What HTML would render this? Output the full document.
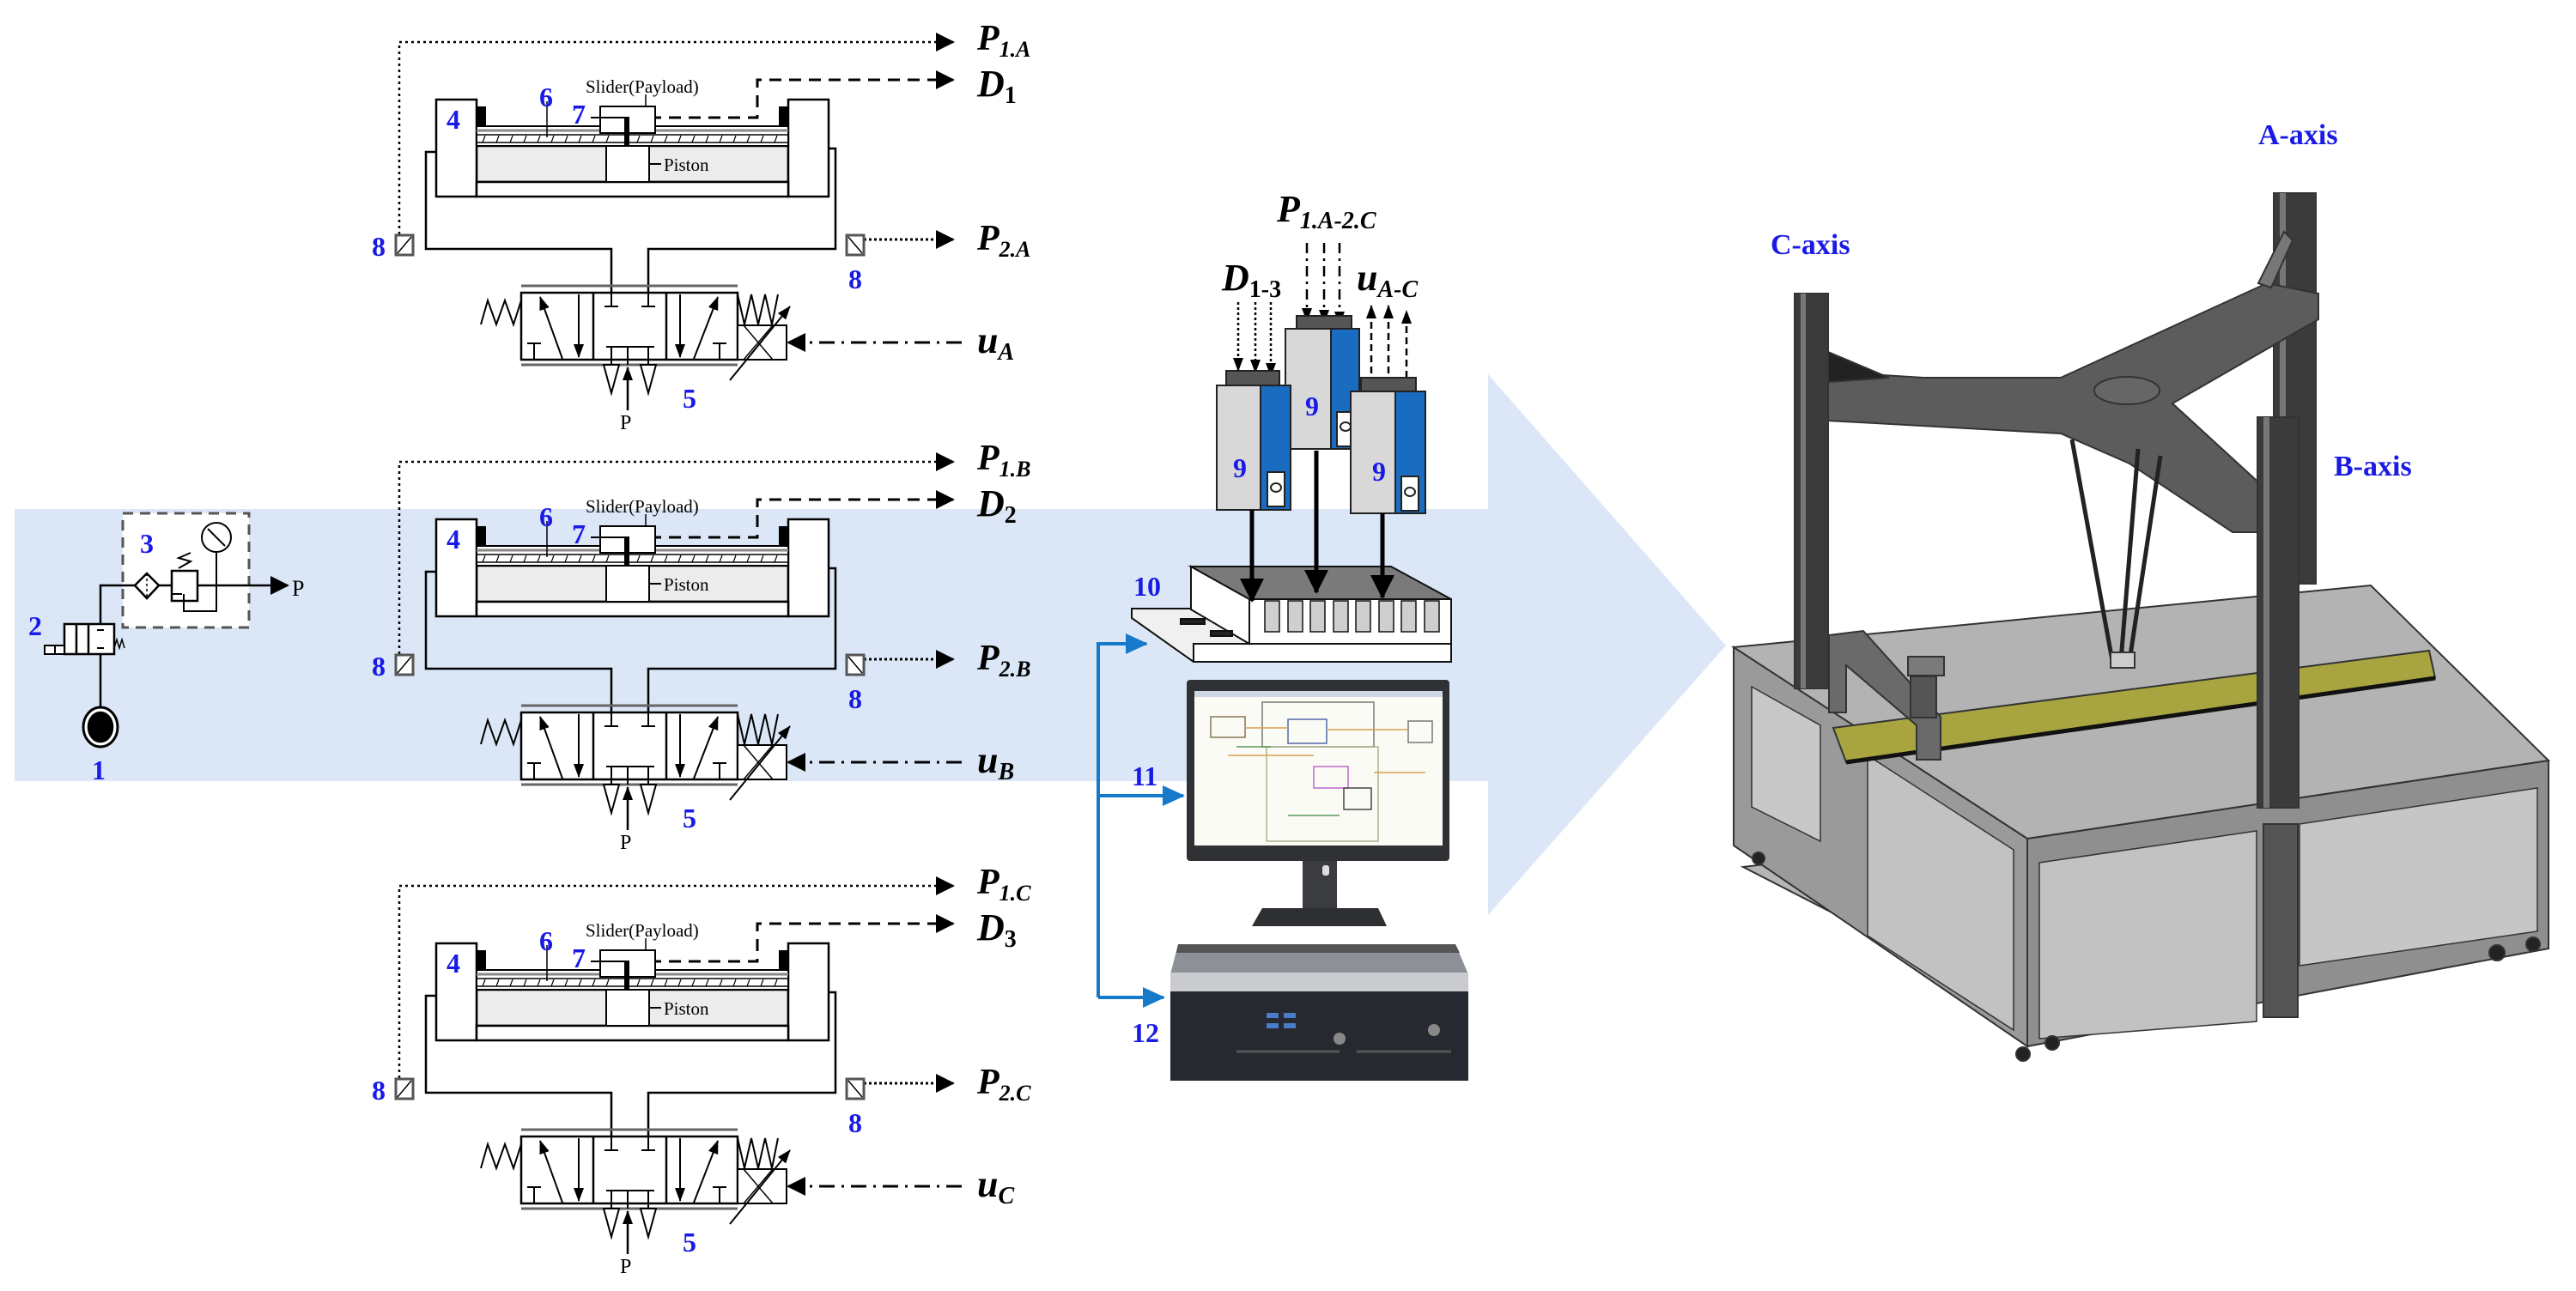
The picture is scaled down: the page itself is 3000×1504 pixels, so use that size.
<!DOCTYPE html>
<html><head><meta charset="utf-8"><style>
html,body{margin:0;padding:0;background:#fff;}
svg{display:block;}
.lab{font-family:"Liberation Serif",serif;font-style:italic;font-weight:bold;fill:#000;}
.num{font-family:"Liberation Serif",serif;font-weight:bold;fill:#1a1ae6;font-size:32px;}
.sm{font-family:"Liberation Serif",serif;fill:#000;font-size:21px;}
.ax{font-family:"Liberation Serif",serif;font-weight:bold;fill:#1a1ae6;font-size:34px;}
</style></head><body>
<svg width="3000" height="1504" viewBox="0 0 3000 1504" xmlns="http://www.w3.org/2000/svg">
<defs>
<marker id="ahb" markerWidth="22" markerHeight="22" refX="20" refY="11" orient="auto" markerUnits="userSpaceOnUse"><path d="M0,0 L22,11 L0,22z" fill="#000"/></marker>
<marker id="ahm" markerWidth="28" markerHeight="28" refX="26" refY="14" orient="auto" markerUnits="userSpaceOnUse"><path d="M0,0 L28,14 L0,28z" fill="#000"/></marker>
<marker id="ahs" markerWidth="16" markerHeight="16" refX="15" refY="8" orient="auto" markerUnits="userSpaceOnUse"><path d="M0,2 L16,8 L0,14z" fill="#000"/></marker>
<marker id="ahbl" markerWidth="26" markerHeight="24" refX="24" refY="12" orient="auto" markerUnits="userSpaceOnUse"><path d="M0,0 L26,12 L0,24z" fill="#1679c9"/></marker>
<g id="unit" fill="none" stroke="#000" stroke-width="2.5">
  <path d="M465,273 V49 H1110" stroke-dasharray="3,4" stroke-width="2.5" marker-end="url(#ahb)"/>
  <path d="M733,137 H882 V93 H1110" stroke-dasharray="14,9" stroke-width="3" marker-end="url(#ahb)"/>
  <path d="M1006,279 H1110" stroke-dasharray="3,3" stroke-width="3" marker-end="url(#ahb)"/>
  <path d="M1120,399 H918" stroke-dasharray="18,8,3,8" stroke-width="3" marker-end="url(#ahb)"/>
  <rect x="555" y="170" width="363" height="42" fill="#ececec"/>
  <rect x="508" y="116" width="47" height="113" fill="#fff"/>
  <rect x="918" y="116" width="47" height="113" fill="#fff"/>
  <rect x="555" y="212" width="363" height="17" fill="#fff"/>
  <rect x="555" y="147" width="363" height="23" fill="#fff" stroke-width="2"/>
  <line x1="555" y1="152" x2="918" y2="152" stroke="#888" stroke-width="3"/>
  <line x1="555" y1="157" x2="918" y2="157" stroke-width="1.5"/>
  <line x1="555" y1="166" x2="918" y2="166" stroke-width="1.5"/>
  <path d="M562,166 l3,-8 M578,166 l3,-8 M594,166 l3,-8 M610,166 l3,-8 M626,166 l3,-8 M642,166 l3,-8 M658,166 l3,-8 M674,166 l3,-8 M690,166 l3,-8 M706,166 l3,-8 M742,166 l3,-8 M758,166 l3,-8 M774,166 l3,-8 M790,166 l3,-8 M806,166 l3,-8 M822,166 l3,-8 M838,166 l3,-8 M854,166 l3,-8 M870,166 l3,-8 M886,166 l3,-8 M902,166 l3,-8" stroke-width="1.2"/>
  <rect x="555" y="124" width="11" height="23" fill="#000" stroke="none"/>
  <rect x="907" y="124" width="11" height="23" fill="#000" stroke="none"/>
  <rect x="699" y="124" width="64" height="31" fill="#fff" stroke-width="2"/>
  <rect x="727" y="137" width="6" height="33" fill="#000" stroke="none"/>
  <rect x="706" y="170" width="50" height="42" fill="#fff" stroke-width="2"/>
  <line x1="756" y1="191" x2="770" y2="191" stroke-width="2"/>
  <line x1="752" y1="110" x2="752" y2="124" stroke-width="1.5"/>
  <line x1="637" y1="118" x2="637" y2="160" stroke-width="1.5"/>
  <line x1="688" y1="137" x2="733" y2="137" stroke-width="2"/>
  <path d="M508,177 H496 V290 H712 V341"/>
  <path d="M965,173 H973 V290 H755 V341"/>
  <rect x="461" y="274" width="20" height="23" fill="#fff" stroke="#555" stroke-width="3"/>
  <line x1="463" y1="295" x2="479" y2="276" stroke-width="1.5"/>
  <rect x="986" y="274" width="20" height="23" fill="#fff" stroke="#555" stroke-width="3"/>
  <line x1="988" y1="276" x2="1004" y2="295" stroke-width="1.5"/>
  <line x1="607" y1="333" x2="859" y2="333" stroke="#666" stroke-width="3"/>
  <line x1="607" y1="425" x2="859" y2="425" stroke="#666" stroke-width="3"/>
  <rect x="607" y="341" width="252" height="78" fill="#fff"/>
  <line x1="691" y1="341" x2="691" y2="419"/>
  <line x1="776" y1="341" x2="776" y2="419"/>
  <path d="M655,418 L629,346" stroke-width="2" marker-end="url(#ahs)"/>
  <path d="M674,343 V416" stroke-width="2" marker-end="url(#ahs)"/>
  <path d="M622,419 V400 M614,400 H630" stroke-width="2"/>
  <path d="M712,341 V357 M704,357 H720 M755,341 V357 M747,357 H763" stroke-width="2"/>
  <path d="M706,404 H762 M712,404 V425 M731,404 V425 M755,404 V425" stroke-width="2"/>
  <path d="M792,343 V416" stroke-width="2" marker-end="url(#ahs)"/>
  <path d="M808,418 L836,346" stroke-width="2" marker-end="url(#ahs)"/>
  <path d="M838,419 V400 M830,400 H846" stroke-width="2"/>
  <path d="M607,350 L598,378 L588,350 L578,378 L568,350 L560,378" stroke-width="2"/>
  <path d="M859,343 L867,378 L875,343 L883,378 L891,343 L899,378 L906,343" stroke-width="2"/>
  <rect x="859" y="379" width="57" height="40" fill="#fff" stroke-width="2"/>
  <path d="M866,379 L900,419 M900,379 L866,419" stroke-width="1.5"/>
  <path d="M850,443 L920,357" stroke-width="2" marker-end="url(#ahs)"/>
  <path d="M703,425 L712,458 L721,425z M746,425 L755,458 L764,425z" fill="#fff" stroke-width="2"/>
  <path d="M731,478 V428" stroke-width="2.5" marker-end="url(#ahs)"/>
</g>
</defs>

<rect x="17" y="593" width="1716" height="317" fill="#dbe7f6"/>
<polygon points="1733,436 2010,752 1733,1066" fill="#dbe7f6"/>

<g fill="none" stroke="#000" stroke-width="2.5">
  <rect x="143" y="598" width="147" height="133" fill="#fff" stroke="#555" stroke-dasharray="12,8" stroke-width="3"/>
  <path d="M117,727 V682 H335" marker-end="url(#ahb)"/>
  <path d="M157,682 L171,668 L185,682 L171,697z" fill="#fff"/>
  <path d="M171,668 V697" stroke-dasharray="3,3" stroke-width="1.5"/>
  <rect x="200" y="665" width="30" height="35" fill="#fff"/>
  <path d="M200,692 H212 M230,682 H252 M214,692 V712 H252 V643" stroke-width="2"/>
  <path d="M208,662 l14,-8 l-14,-4 l14,-6" stroke-width="2"/>
  <circle cx="252" cy="626" r="17" fill="#fff" stroke-width="2"/>
  <line x1="242" y1="616" x2="262" y2="636" stroke-width="2"/>
  <rect x="75" y="727" width="58" height="35" fill="#fff"/>
  <line x1="89" y1="727" x2="89" y2="762"/><line x1="103" y1="727" x2="103" y2="762"/>
  <path d="M52,752 H75 V762 H52z M64,752 V762" fill="#fff" stroke-width="2"/>
  <path d="M113,734 H121 M113,755 H121" stroke-width="2"/>
  <path d="M133,755 l3,-10 l3,10 l3,-10 l3,10" stroke-width="1.5"/>
  <path d="M117,762 V826"/>
  <ellipse cx="117" cy="847" rx="20" ry="23" fill="#fff" stroke-width="3"/>
  <ellipse cx="117" cy="847" rx="14" ry="17" fill="#000"/>
</g>
<text x="340" y="694" class="sm" style="font-size:26px">P</text>
<text x="163" y="644" class="num">3</text>
<text x="33" y="740" class="num">2</text>
<text x="107" y="908" class="num">1</text>

<use href="#unit"/>
<use href="#unit" transform="translate(0,489)"/>
<use href="#unit" transform="translate(0,983)"/>

<g>
<text x="682" y="108" class="sm">Slider(Payload)</text>
<text x="773" y="199" class="sm">Piston</text>
<text x="722" y="500" class="sm" style="font-size:24px">P</text>
<text x="520" y="150" class="num">4</text><text x="628" y="124" class="num">6</text><text x="666" y="144" class="num">7</text>
<text x="433" y="298" class="num">8</text><text x="988" y="336" class="num">8</text><text x="795" y="475" class="num">5</text>
<text x="1138" y="58" class="lab" style="font-size:42px">P<tspan font-size="26" dy="8">1.A</tspan></text>
<text x="1138" y="112" class="lab" style="font-size:44px">D<tspan font-size="28" dy="8" font-style="normal">1</tspan></text>
<text x="1138" y="291" class="lab" style="font-size:42px">P<tspan font-size="26" dy="8">2.A</tspan></text>
<text x="1138" y="411" class="lab" style="font-size:44px">u<tspan font-size="28" dy="8">A</tspan></text>
</g>
<g transform="translate(0,489)">
<text x="682" y="108" class="sm">Slider(Payload)</text>
<text x="773" y="199" class="sm">Piston</text>
<text x="722" y="500" class="sm" style="font-size:24px">P</text>
<text x="520" y="150" class="num">4</text><text x="628" y="124" class="num">6</text><text x="666" y="144" class="num">7</text>
<text x="433" y="298" class="num">8</text><text x="988" y="336" class="num">8</text><text x="795" y="475" class="num">5</text>
<text x="1138" y="58" class="lab" style="font-size:42px">P<tspan font-size="26" dy="8">1.B</tspan></text>
<text x="1138" y="112" class="lab" style="font-size:44px">D<tspan font-size="28" dy="8" font-style="normal">2</tspan></text>
<text x="1138" y="291" class="lab" style="font-size:42px">P<tspan font-size="26" dy="8">2.B</tspan></text>
<text x="1138" y="411" class="lab" style="font-size:44px">u<tspan font-size="28" dy="8">B</tspan></text>
</g>
<g transform="translate(0,983)">
<text x="682" y="108" class="sm">Slider(Payload)</text>
<text x="773" y="199" class="sm">Piston</text>
<text x="722" y="500" class="sm" style="font-size:24px">P</text>
<text x="520" y="150" class="num">4</text><text x="628" y="124" class="num">6</text><text x="666" y="144" class="num">7</text>
<text x="433" y="298" class="num">8</text><text x="988" y="336" class="num">8</text><text x="795" y="475" class="num">5</text>
<text x="1138" y="58" class="lab" style="font-size:42px">P<tspan font-size="26" dy="8">1.C</tspan></text>
<text x="1138" y="112" class="lab" style="font-size:44px">D<tspan font-size="28" dy="8" font-style="normal">3</tspan></text>
<text x="1138" y="291" class="lab" style="font-size:42px">P<tspan font-size="26" dy="8">2.C</tspan></text>
<text x="1138" y="411" class="lab" style="font-size:44px">u<tspan font-size="28" dy="8">C</tspan></text>
</g>

<text x="1487" y="258" class="lab" style="font-size:44px">P<tspan font-size="28" dy="8">1.A-2.C</tspan></text>
<text x="1423" y="338" class="lab" style="font-size:44px">D<tspan font-size="28" dy="8" font-style="normal">1-3</tspan></text>
<text x="1580" y="338" class="lab" style="font-size:44px">u<tspan font-size="28" dy="8">A-C</tspan></text>
<g fill="none" stroke="#000" stroke-width="2.5">
  <path d="M1442,352 V432" stroke-dasharray="3,3" marker-end="url(#ahs)"/>
  <path d="M1462,352 V434" stroke-dasharray="3,3" marker-end="url(#ahs)"/>
  <path d="M1480,352 V438" stroke-dasharray="3,3" marker-end="url(#ahs)"/>
  <path d="M1522,283 V374" stroke-dasharray="12,6,3,6" marker-end="url(#ahs)"/>
  <path d="M1542,283 V376" stroke-dasharray="12,6,3,6" marker-end="url(#ahs)"/>
  <path d="M1560,283 V378" stroke-dasharray="12,6,3,6" marker-end="url(#ahs)"/>
  <path d="M1597,435 V356" stroke-dasharray="8,5" marker-end="url(#ahs)"/>
  <path d="M1617,435 V356" stroke-dasharray="8,5" marker-end="url(#ahs)"/>
  <path d="M1638,440 V362" stroke-dasharray="8,5" marker-end="url(#ahs)"/>
</g>
<g stroke="#222" stroke-width="2">
  <rect x="1510" y="368" width="64" height="18" fill="#555"/>
  <rect x="1497" y="383" width="55" height="140" fill="#d8d8d8"/>
  <rect x="1550" y="383" width="33" height="140" fill="#1a6cc0"/>
  <rect x="1557" y="480" width="20" height="40" fill="#fff"/>
  <ellipse cx="1567" cy="497" rx="6" ry="5" fill="#fff"/>
  <rect x="1428" y="432" width="62" height="20" fill="#555"/>
  <rect x="1417" y="449" width="53" height="145" fill="#d8d8d8"/>
  <rect x="1468" y="449" width="35" height="145" fill="#1a6cc0"/>
  <rect x="1476" y="550" width="20" height="40" fill="#fff"/>
  <ellipse cx="1486" cy="568" rx="6" ry="5" fill="#fff"/>
  <rect x="1585" y="440" width="64" height="20" fill="#555"/>
  <rect x="1573" y="456" width="54" height="142" fill="#d8d8d8"/>
  <rect x="1625" y="456" width="35" height="142" fill="#1a6cc0"/>
  <rect x="1632" y="555" width="20" height="40" fill="#fff"/>
  <ellipse cx="1642" cy="573" rx="6" ry="5" fill="#fff"/>
</g>
<text x="1436" y="556" class="num">9</text><text x="1520" y="484" class="num">9</text><text x="1598" y="560" class="num">9</text>
<g stroke="#111" stroke-width="2">
  <polygon points="1318,709 1387,709 1455,750 1455,771 1390,771 1318,720" fill="#f0f0f0"/>
  <rect x="1390" y="750" width="300" height="21" fill="#fff"/>
  <polygon points="1387,660 1455,698 1455,750 1387,710" fill="#fff"/>
  <polygon points="1387,660 1620,660 1690,698 1455,698" fill="#7a7a7a"/>
  <rect x="1455" y="698" width="235" height="52" fill="#fff"/>
  <g fill="#cfcfcf" stroke-width="1.5">
    <rect x="1473" y="700" width="17" height="36"/><rect x="1500" y="700" width="17" height="36"/><rect x="1526" y="700" width="17" height="36"/><rect x="1553" y="700" width="17" height="36"/><rect x="1579" y="700" width="17" height="36"/><rect x="1606" y="700" width="17" height="36"/><rect x="1632" y="700" width="17" height="36"/><rect x="1659" y="700" width="17" height="36"/>
  </g>
  <rect x="1375" y="721" width="28" height="6" fill="#222"/><rect x="1410" y="735" width="25" height="6" fill="#222"/>
</g>
<g stroke="#000" stroke-width="5" fill="none">
  <path d="M1458,594 V700" marker-end="url(#ahm)"/>
  <path d="M1533,525 V690" marker-end="url(#ahm)"/>
  <path d="M1610,598 V696" marker-end="url(#ahm)"/>
</g>
<text x="1320" y="694" class="num">10</text>
<text x="1318" y="915" class="num">11</text>
<text x="1318" y="1214" class="num">12</text>
<g stroke="#1679c9" stroke-width="4" fill="none">
  <path d="M1279,1162 V750 H1335" marker-end="url(#ahbl)"/>
  <path d="M1279,927 H1378" marker-end="url(#ahbl)"/>
  <path d="M1279,1162 H1355" marker-end="url(#ahbl)"/>
</g>
<rect x="1382" y="792" width="306" height="211" rx="4" fill="#2f3135"/>
<rect x="1391" y="805" width="289" height="180" fill="#fbfbf6"/>
<rect x="1391" y="805" width="289" height="7" fill="#cfd6e4"/>
<g fill="none" stroke-width="1.5">
  <rect x="1470" y="818" width="130" height="52" stroke="#777"/>
  <rect x="1475" y="870" width="130" height="110" stroke="#a8b48a"/>
  <rect x="1500" y="838" width="45" height="28" stroke="#5566aa"/>
  <rect x="1410" y="835" width="40" height="24" stroke="#887755"/>
  <rect x="1530" y="893" width="40" height="25" stroke="#bb66cc"/>
  <rect x="1565" y="918" width="32" height="25" stroke="#444"/>
  <rect x="1640" y="840" width="28" height="25" stroke="#777"/>
  <path d="M1450,848 H1500 M1545,850 H1640 M1430,880 H1530 M1600,900 H1660" stroke="#d8a050"/>
  <path d="M1440,870 H1480 M1500,950 H1560" stroke="#5a9a5a"/>
</g>
<rect x="1517" y="1003" width="40" height="58" fill="#3a3c40"/>
<rect x="1540" y="1008" width="8" height="12" rx="3" fill="#ddd"/>
<path d="M1470,1058 H1605 L1615,1079 H1458z" fill="#2d2f33"/>
<path d="M1372,1100 H1695 L1710,1135 H1363z" fill="#8d9096"/>
<path d="M1372,1100 H1695 L1700,1110 H1370z" fill="#555"/>
<rect x="1363" y="1133" width="347" height="22" fill="#c9cbcf"/>
<rect x="1363" y="1155" width="347" height="104" fill="#26292f"/>
<g fill="#4a7cc8"><rect x="1475" y="1180" width="14" height="6"/><rect x="1495" y="1180" width="14" height="6"/><rect x="1475" y="1192" width="14" height="6"/><rect x="1495" y="1192" width="14" height="6"/></g>
<circle cx="1560" cy="1210" r="7" fill="#888"/><circle cx="1670" cy="1200" r="7" fill="#888"/>
<path d="M1440,1225 H1560 M1580,1225 H1690" stroke="#555" stroke-width="3"/>

<text x="2062" y="296" class="ax">C-axis</text>
<text x="2630" y="168" class="ax">A-axis</text>
<text x="2718" y="554" class="ax">B-axis</text>
<g stroke="#333" stroke-width="2">
  <polygon points="2030,1010 2361,1180 2965,1090 2700,930" fill="#b5b5b5"/>
  <polygon points="2019,754 2361,977 2361,1219 2019,985" fill="#9a9a9a"/>
  <polygon points="2361,977 2968,886 2968,1105 2361,1219" fill="#8f8f8f"/>
  <polygon points="2040,800 2120,845 2120,980 2040,940" fill="#c8c8c8" stroke-width="1.5"/>
  <polygon points="2175,880 2345,990 2345,1200 2175,1090" fill="#c2c2c2" stroke-width="1.5"/>
  <polygon points="2375,1005 2628,968 2628,1190 2375,1210" fill="#c2c2c2" stroke-width="1.5"/>
  <polygon points="2678,960 2955,918 2955,1085 2678,1125" fill="#c6c6c6" stroke-width="1.5"/>
  <rect x="2636" y="960" width="40" height="225" fill="#555"/>
  <polygon points="2019,754 2761,682 2968,886 2361,977" fill="#b3b3b3"/>
  <circle cx="2048" cy="1000" r="7" fill="#222"/><circle cx="2356" cy="1228" r="8" fill="#222"/>
  <circle cx="2390" cy="1215" r="8" fill="#222"/><circle cx="2908" cy="1110" r="9" fill="#222"/><circle cx="2950" cy="1100" r="8" fill="#222"/>
  <polygon points="2135,848 2829,758 2836,790 2150,888" fill="#a8a540"/>
  <line x1="2150" y1="888" x2="2836" y2="790" stroke="#111" stroke-width="5"/>
  <polygon points="2130,740 2170,735 2260,835 2260,885 2232,885 2232,845 2150,775 2150,830 2130,830" fill="#6a6a6a"/>
  <rect x="2225" y="788" width="30" height="48" fill="#555"/>
  <rect x="2222" y="765" width="42" height="22" fill="#7a7a7a"/>
  <rect x="2090" y="342" width="39" height="460" fill="#3b3b3b"/>
  <rect x="2097" y="342" width="6" height="460" fill="#777" stroke="none"/>
  <rect x="2648" y="225" width="49" height="455" fill="#3b3b3b"/>
  <rect x="2655" y="225" width="7" height="455" fill="#777" stroke="none"/>
  <polygon points="2129,433 2240,440 2400,440 2640,330 2700,342 2700,372 2530,470 2650,580 2640,620 2600,620 2480,540 2400,505 2129,490" fill="#5c5c5c"/>
  <polygon points="2129,410 2200,440 2129,445" fill="#222"/>
  <ellipse cx="2477" cy="455" rx="38" ry="16" fill="#666"/>
  <polygon points="2630,330 2660,270 2670,280 2645,335" fill="#777"/>
  <path d="M2413,512 L2460,770 M2490,523 L2470,770 M2516,531 L2480,770" stroke="#222" stroke-width="5" fill="none"/>
  <rect x="2458" y="760" width="28" height="18" fill="#ccc"/>
  <rect x="2629" y="486" width="48" height="455" fill="#3b3b3b"/>
  <rect x="2636" y="486" width="7" height="455" fill="#777" stroke="none"/>
</g>
</svg>
</body></html>
